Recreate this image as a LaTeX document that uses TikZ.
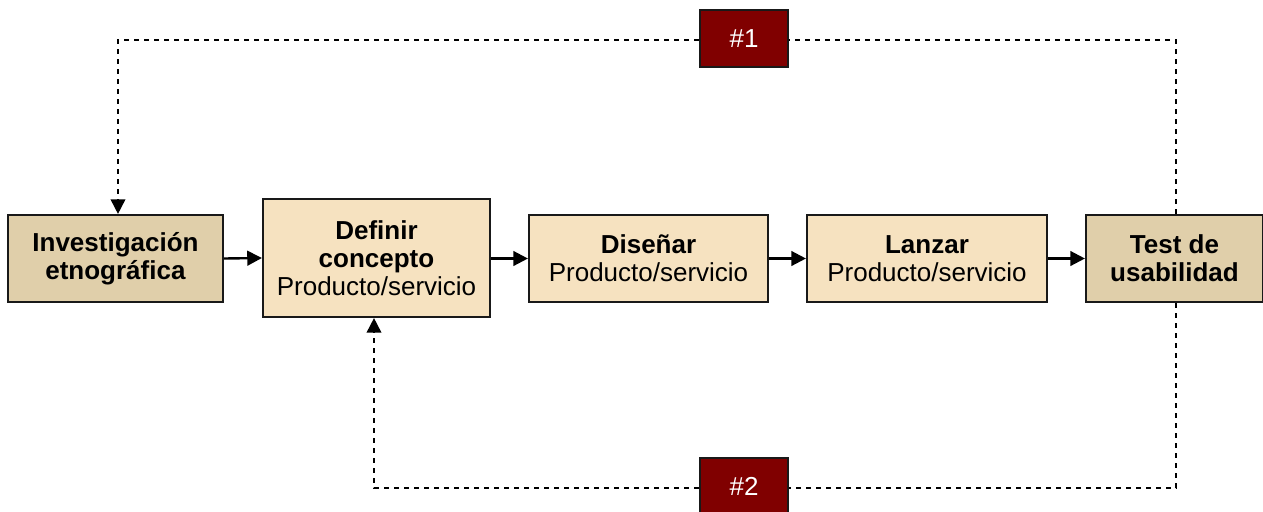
\documentclass[tikz,border=0pt]{standalone}
\usepackage{fontspec}
\setmainfont{Liberation Sans}
\usetikzlibrary{arrows.meta}
\definecolor{tandark}{RGB}{224,207,170}
\definecolor{tanlight}{RGB}{246,226,192}
\definecolor{darkred}{RGB}{128,0,0}
\tikzset{
  box/.style={draw=black!90, line width=1.6pt, align=center, inner sep=0pt,
    font=\fontsize{19.5}{21}\selectfont},
  dark/.style={box, fill=tandark},
  light/.style={box, fill=tanlight},
  tag/.style={draw=black!90, line width=1.6pt, fill=darkred, text=white, inner sep=0pt,
    font=\fontsize{19.5}{21}\selectfont},
  flow/.style={line width=1.8pt, -{Triangle[length=11pt,width=11pt]}},
  loop/.style={line width=1.3pt, dash pattern=on 4pt off 3.5pt, -{Triangle[length=11pt,width=11pt]}},
  loopline/.style={line width=1.3pt, dash pattern=on 4pt off 3.5pt}
}
\begin{document}
\begin{tikzpicture}[x=0.75pt,y=-0.75pt]
\useasboundingbox (0,0) rectangle (1263,511);
\node[dark, minimum width=215*0.75pt, minimum height=87*0.75pt] (inv) at (115.5,258.5) {\textbf{Investigación}\\\textbf{etnográfica}};
\node[light, minimum width=227*0.75pt, minimum height=118*0.75pt] (def) at (376.5,258) {\textbf{Definir}\\\textbf{concepto}\\Producto/servicio};
\node[light, minimum width=239*0.75pt, minimum height=87*0.75pt] (dis) at (648.5,258.5) {\textbf{Diseñar}\\Producto/servicio};
\node[light, minimum width=240*0.75pt, minimum height=87*0.75pt] (lan) at (927,258.5) {\textbf{Lanzar}\\Producto/servicio};
\node[dark, minimum width=177*0.75pt, minimum height=87*0.75pt] (test) at (1174.5,258.5) {\textbf{Test de}\\\textbf{usabilidad}};
\node[tag, minimum width=88*0.75pt, minimum height=57*0.75pt] (t1) at (744,38.5) {\#1};
\node[tag, minimum width=88*0.75pt, minimum height=57*0.75pt] (t2) at (744,486.5) {\#2};
\draw[flow] (inv.east) -- (def.west);
\draw[flow] (def.east |- dis.west) -- (dis.west);
\draw[flow] (dis.east) -- (lan.west);
\draw[flow] (lan.east) -- (test.west);
\coordinate (tr) at (1176,40);
\coordinate (tl) at (118,40);
\coordinate (br) at (1176,488);
\coordinate (bl) at (374,488);
\draw[loopline] (test.north -| tr) -- (tr) -- (t1.east |- tr);
\draw[loop] (t1.west |- tl) -- (tl) -- (tl |- inv.north);
\draw[loopline] (test.south -| br) -- (br) -- (t2.east |- br);
\draw[loop] (t2.west |- bl) -- (bl) -- (bl |- def.south);
\end{tikzpicture}
\end{document}
